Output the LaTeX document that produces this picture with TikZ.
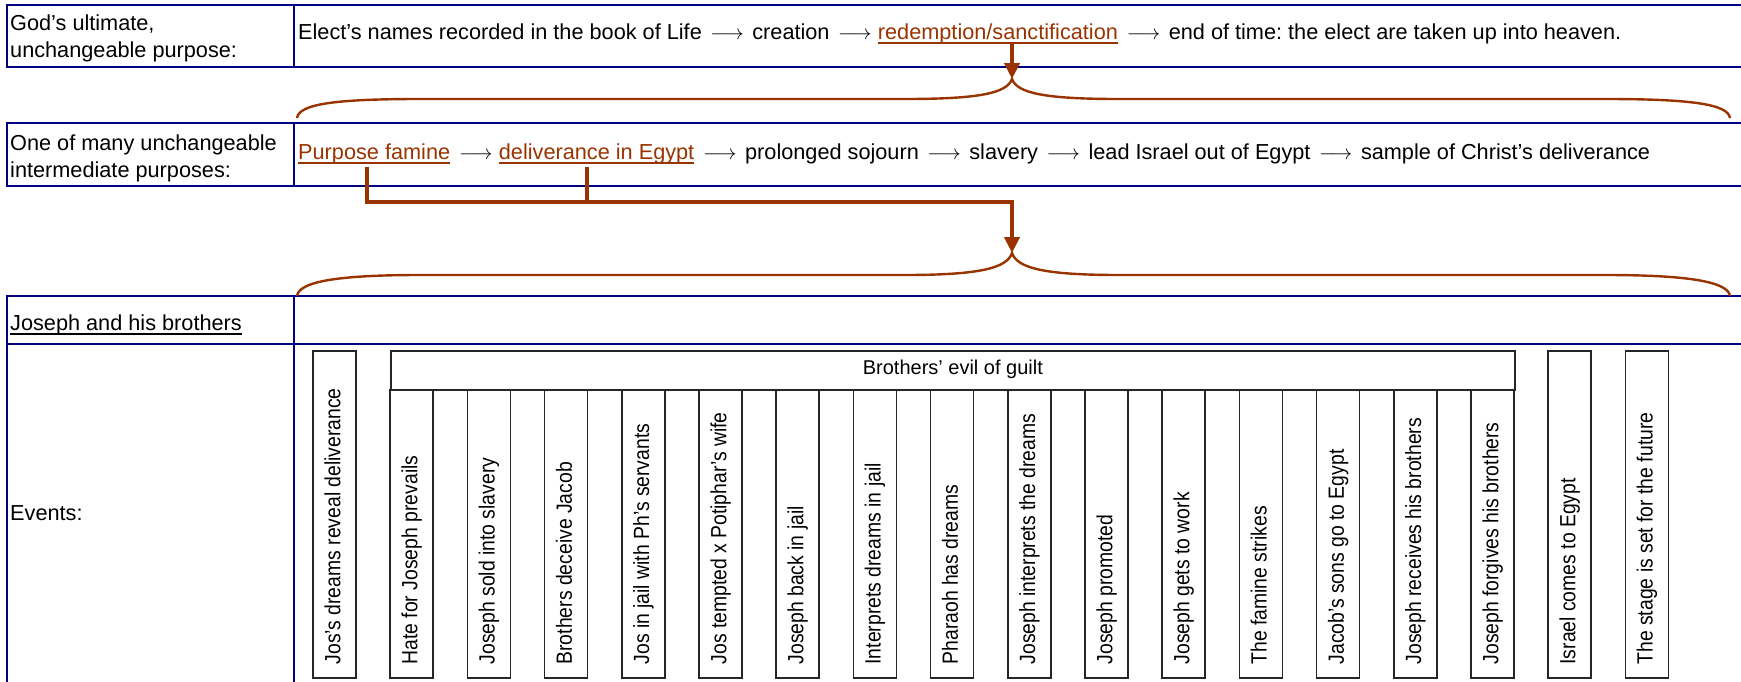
\documentclass[tikz,border=0pt]{standalone}
\usepackage{fontspec}
\setmainfont{Liberation Sans}
\usepackage{graphicx}
\usetikzlibrary{arrows.meta}
\definecolor{navy}{RGB}{0,0,128}
\definecolor{rust}{RGB}{153,51,0}
\frenchspacing
\newcommand\myuline[1]{\setbox0\hbox{#1}\rlap{\rule[-4.8pt]{\wd0}{1.6pt}}\box0}
\newcommand\myarr{\hspace{2.5pt}$\longrightarrow$\hspace{2.5pt}}
\begin{document}
\begin{tikzpicture}[x=1pt,y=-1pt,
 tablines/.style={draw=navy,line width=2.2pt},
 txt/.style={inner sep=0pt,anchor=base west,font=\fontsize{21.7}{26}\selectfont},
 evbox/.style={draw=black!85,line width=1.6pt,minimum width=43pt,inner sep=0pt,anchor=north},
 evtext/.style={rotate=90,anchor=west,inner sep=0pt,text height=16pt,text depth=4.5pt,font=\fontsize{22}{22}\selectfont},
 conn/.style={draw=rust,line width=4pt},
 bracestyle/.style={draw=rust,line width=2.4pt},
 tip/.style={-{Triangle[width=15pt,length=16pt]}}
]
\useasboundingbox (0,0) rectangle (1741,681);
\clip (0,0) rectangle (1741,681);

% table
\draw[tablines] (7,5) rectangle (1760,67) (294,5) -- (294,67);
\draw[tablines] (7,123) rectangle (1760,186) (294,123) -- (294,186);
\draw[tablines] (7,296) rectangle (1760,700) (7,344) -- (1760,344) (294,296) -- (294,700);

% left labels
\node[txt] (l1a) at (10,30) {God’s ultimate,};
\node[txt] (l1b) at (10,57.5) {unchangeable purpose:};
\node[txt] (l2a) at (10,150) {One of many unchangeable};
\node[txt] (l2b) at (10,177.5) {intermediate purposes:};
\node[txt] (l3) at (10,330) {\myuline{Joseph and his brothers}};
\node[txt] (l4) at (10,520) {Events:};

% row 1 content
\node[txt] (r1a) at (298,39) {Elect’s names recorded in the book of Life \myarr{} creation \myarr};
\node[txt,text=rust] (red) at ([xshift=6pt]r1a.base east) {\myuline{redemption/sanctification}};
\node[txt] (r1c) at ([xshift=6pt]red.base east) {\myarr{} end of time: the elect are taken up into heaven.};

% row 2 content
\node[txt,text=rust] (pf) at (298,159) {\myuline{Purpose famine}};
\node[txt] (ar1) at ([xshift=6pt]pf.base east) {\myarr};
\node[txt,text=rust] (dl) at ([xshift=6pt]ar1.base east) {\myuline{deliverance in Egypt}};
\node[txt] (r2c) at ([xshift=6pt]dl.base east) {\myarr{} prolonged sojourn \myarr{} slavery \myarr{} lead Israel out of Egypt \myarr{} sample of Christ’s deliverance};

% braces
\coordinate (b1) at (1012,79);
\draw[bracestyle] (297,118) .. controls (299,104) and (335,99) .. (420,99) -- (905,99) .. controls (980,99) and (1007,93) .. (b1) .. controls (1017,93) and (1044,99) .. (1119,99) -- (1605,99) .. controls (1690,99) and (1728,104) .. (1730,118);
\coordinate (b2) at (1012,253);
\draw[bracestyle] (297,296) .. controls (299,282) and (335,275) .. (420,275) -- (905,275) .. controls (980,275) and (1007,268) .. (b2) .. controls (1017,268) and (1044,275) .. (1119,275) -- (1605,275) .. controls (1690,275) and (1728,282) .. (1730,296);

% connectors
\draw[conn,tip] (b1 |- red.south) -- (b1);
\coordinate (bar) at (1012,202);
\draw[conn,tip] ([shift={(-7pt,-3pt)}]pf.south) |- (bar) -- (b2);
\draw[conn] ([shift={(-10pt,-3pt)}]dl.south) -- ([xshift=-10pt]dl.south |- bar);

% events
\node[evbox,minimum height=327pt] (e0) at (334.5,350) {};
\node[evtext] (et0) at ([yshift=14pt]e0.south) {\scalebox{0.88}[1]{Jos’s dreams reveal deliverance}};
\node[evbox,anchor=north west,minimum width=1123.8pt,minimum height=39pt,text height=15pt,text depth=6pt,font=\fontsize{20}{20}\selectfont] (hdr) at (390.2,350) {Brothers’ evil of guilt};
\foreach \t [count=\i] in {Hate for Joseph prevails, Joseph sold into slavery, Brothers deceive Jacob, Jos in jail with Ph’s servants, Jos tempted x Potiphar’s wife, Joseph back in jail, Interprets dreams in jail, Pharaoh has dreams, Joseph interprets the dreams, Joseph promoted, Joseph gets to work, The famine strikes, Jacob’s sons go to Egypt, Joseph receives his brothers, Joseph forgives his brothers}{
  \node[evbox,minimum height=288pt] (s\i) at ({334.5+77.2*\i},389) {};
  \node[evtext] (st\i) at ([yshift=14pt]s\i.south) {\scalebox{0.88}[1]{\t}};
}
\node[evbox,minimum height=327pt] (e16) at ({334.5+77.2*16},350) {};
\node[evtext] (et16) at ([yshift=14pt]e16.south) {\scalebox{0.88}[1]{Israel comes to Egypt}};
\node[evbox,minimum height=327pt] (e17) at ({334.5+77.2*17},350) {};
\node[evtext] (et17) at ([yshift=14pt]e17.south) {\scalebox{0.88}[1]{The stage is set for the future}};
\end{tikzpicture}
\end{document}
